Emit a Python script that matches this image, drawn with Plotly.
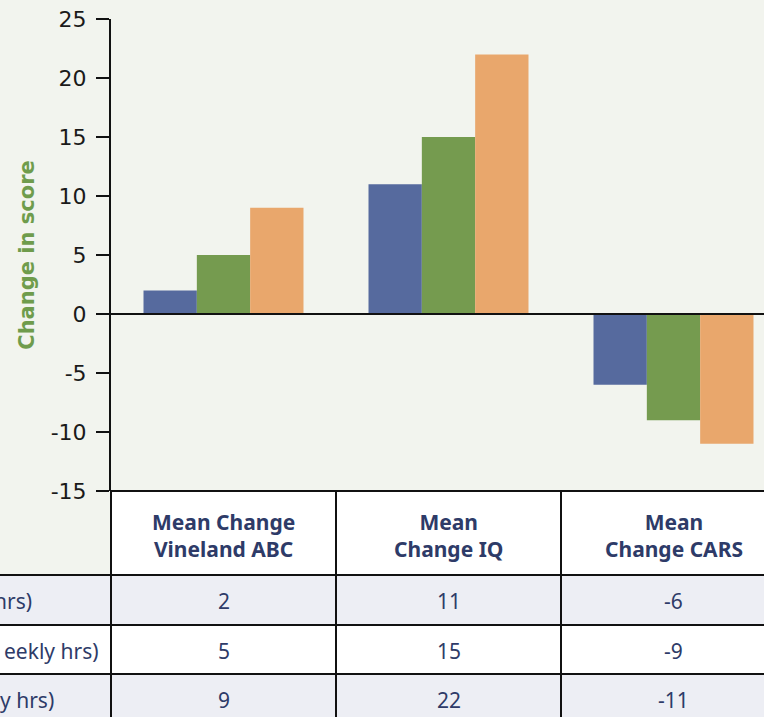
import plotly.graph_objects as go

# ---------------- data ----------------
categories = ["Mean Change Vineland ABC", "Mean Change IQ", "Mean Change CARS"]
header_labels = ["Mean Change<br>Vineland ABC", "Mean<br>Change IQ", "Mean<br>Change CARS"]
series_names = ["hrs)", "eekly hrs)", "y hrs)"]          # row labels (visible part)
series_1 = [2, 11, -6]
series_2 = [5, 15, -9]
series_3 = [9, 22, -11]
series_values = [series_1, series_2, series_3]
tick_vals = [-15, -10, -5, 0, 5, 10, 15, 20, 25]
tick_text = ["-15", "-10", "-5", "0", "5", "10", "15", "20", "25"]

# ---------------- style ----------------
W, H = 764, 717
L, R, T, B = 111, 764, 19, 491          # plot area in pixels
colors = ["#566a9e", "#759b4f", "#e9a76c"]
bg = "#f2f4ee"
row_bg = ["#edeef4", "#ffffff", "#edeef4"]
navy = "#2e3b68"
green = "#6f9c4c"
font_fam = "Noto Sans"

cat_px = 225.0                          # pixels per category
xr = [-0.5, -0.5 + (R - L) / cat_px]
yr = [tick_vals[0], tick_vals[-1]]

def px_x(x):
    return (x - L) / (R - L)

def px_y(y):
    return (B - y) / (B - T)

def cat_x(v):
    return (v - xr[0]) / (xr[1] - xr[0])

fig = go.Figure()
for name, vals, c in zip(series_names, series_values, colors):
    fig.add_trace(go.Bar(x=list(range(len(categories))), y=vals, name=name,
                         marker=dict(color=c, line=dict(width=0)),
                         hovertext=categories))

shapes = []
annotations = []
row_edges = [491, 575, 625, 674, 723]

# row backgrounds
for i in range(3):
    shapes.append(dict(type="rect", xref="paper", yref="paper", layer="below",
                       x0=px_x(-5), x1=px_x(W + 5),
                       y0=px_y(row_edges[i + 2]), y1=px_y(row_edges[i + 1]),
                       fillcolor=row_bg[i], line=dict(width=0)))
# header cells (white)
shapes.append(dict(type="rect", xref="paper", yref="paper", layer="below",
                   x0=0, x1=px_x(W + 5), y0=px_y(row_edges[1]), y1=0,
                   fillcolor="#ffffff", line=dict(width=0)))

line_st = dict(color="#111111", width=2)
# horizontal borders
shapes.append(dict(type="line", xref="paper", yref="paper", x0=0, x1=px_x(W + 5),
                   y0=0, y1=0, line=line_st))
for y in row_edges[1:]:
    shapes.append(dict(type="line", xref="paper", yref="paper", x0=px_x(-5), x1=px_x(W + 5),
                       y0=px_y(y), y1=px_y(y), line=line_st))
# vertical borders
shapes.append(dict(type="line", xref="paper", yref="paper", x0=0, x1=0,
                   y0=0, y1=px_y(H + 10), line=line_st))
for i in range(1, len(categories)):
    xv = cat_x(i - 0.5)
    shapes.append(dict(type="line", xref="paper", yref="paper", x0=xv, x1=xv,
                       y0=0, y1=px_y(H + 10), line=line_st))
# zero line above bars
shapes.append(dict(type="line", xref="paper", yref="y", x0=0, x1=1, y0=0, y1=0,
                   layer="above", line=dict(color="#111111", width=2)))

# header texts
for i, lab in enumerate(header_labels):
    annotations.append(dict(xref="paper", yref="paper", x=cat_x(i), y=px_y(535),
                            text=lab, showarrow=False, xanchor="center", yanchor="middle",
                            font=dict(family=font_fam, size=21, color=navy, weight="bold")))
# cell values
for r, vals in enumerate(series_values):
    yc = px_y((row_edges[r + 1] + row_edges[r + 2]) / 2 + 1)
    for i, v in enumerate(vals):
        annotations.append(dict(xref="paper", yref="paper", x=cat_x(i), y=yc,
                                text=str(v), showarrow=False, xanchor="center", yanchor="middle",
                                font=dict(family=font_fam, size=21, color=navy)))
# row labels (cut by the left edge)
label_right = [34, 101, 56]
for r, name in enumerate(series_names):
    yc = px_y((row_edges[r + 1] + row_edges[r + 2]) / 2 + 1)
    annotations.append(dict(xref="paper", yref="paper", x=px_x(label_right[r]), y=yc,
                            text=name, showarrow=False, xanchor="right", yanchor="middle",
                            font=dict(family=font_fam, size=21, color=navy)))

fig.update_layout(
    width=W, height=H,
    margin=dict(l=L, r=W - R, t=T, b=H - B, pad=0),
    paper_bgcolor=bg, plot_bgcolor=bg,
    barmode="group", bargap=0.289, bargroupgap=0,
    showlegend=False,
    shapes=shapes, annotations=annotations,
    xaxis=dict(range=xr, showticklabels=False, showgrid=False, zeroline=False,
               showline=False, ticks="", fixedrange=True),
    yaxis=dict(range=yr, tickvals=tick_vals, ticktext=tick_text, showgrid=False,
               zeroline=False, showline=True, linecolor="#111111", linewidth=2,
               ticks="outside", ticklen=13, tickwidth=2, tickcolor="#111111",
               ticklabelstandoff=5,
               tickfont=dict(family="DejaVu Sans", size=22, color="#1a1a1a"),
               title=dict(text="Change in score", standoff=10,
                          font=dict(family="DejaVu Sans", size=21, color=green, weight="bold")),
               automargin=False),
)

fig.write_html("out.html", config={"displayModeBar": False},
               post_script="document.body.style.margin='0px';document.body.style.overflow='hidden';")
